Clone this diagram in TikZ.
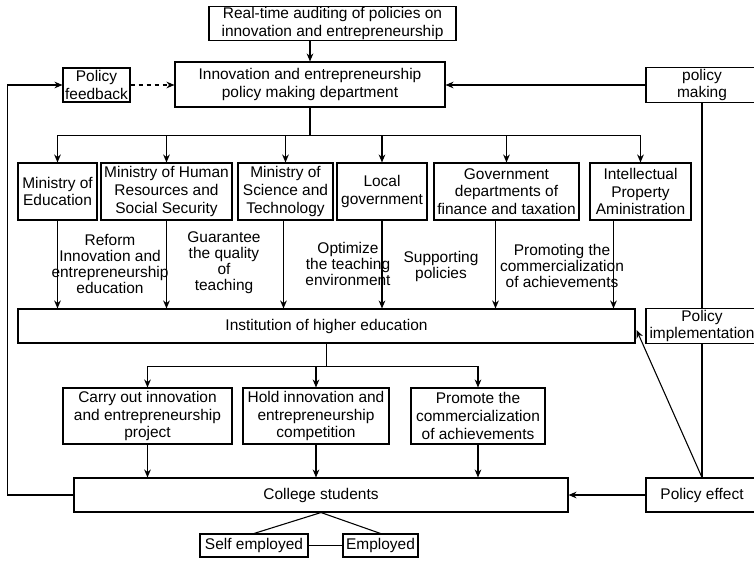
\documentclass[tikz,border=0pt]{standalone}
\usepackage{fontspec}
\setmainfont{Liberation Sans}
\usetikzlibrary{arrows.meta,positioning,calc}

\begin{document}
\begin{tikzpicture}[
    x=0.75pt, y=-0.75pt,
    box/.style={rectangle, draw, line width=0.8pt, inner sep=1pt, align=center, font=\fontsize{11.6}{13.3}\selectfont},
    sz/.style 2 args={minimum width=#1*0.75pt, minimum height=#2*0.75pt},
    lbl/.style={inner sep=0pt, align=center, font=\fontsize{11.6}{12}\selectfont},
    arrow/.style={-{Stealth[length=6pt,width=5pt]}, line width=0.8pt},
    link/.style={line width=0.8pt}
]
\useasboundingbox (0,0) rectangle (754,561);
% top part
\node[box, sz={247}{33}] (audit) at (332.5,23.5) {Real-time auditing of policies on\\innovation and entrepreneurship};
\node[box, sz={270}{45}] (dept) at (310,84.5) {Innovation and entrepreneurship\\policy making department};
\node[box, sz={67}{34}] (fb) at (96.5,85) {Policy\\feedback};
\node[box, sz={112}{34}] (making) at (702,85) {policy\\making};
% ministries
\node[box, sz={79}{57}] (edu) at (57.5,191.5) {Ministry of\\Education};
\node[box, sz={131}{57}] (hr) at (166.5,191.5) {Ministry of Human\\Resources and\\Social Security};
\node[box, sz={95}{57}] (sci) at (285.5,191.5) {Ministry of\\Science and\\Technology};
\node[box, sz={90}{57}] (local) at (382,191.5) {Local\\government};
\node[box, sz={145}{57}] (fin) at (506.5,191.5) {Government\\departments of\\finance and taxation};
\node[box, sz={101}{57}] (ipa) at (640.5,191.5) {Intellectual\\Property\\Aministration};
% labels
\node[lbl] (reform) at (110,263.5) {Reform\\Innovation and\\entrepreneurship\\education};
\node[lbl] (quality) at (224,263) {Guarantee\\the quality\\of\\teaching};
\node[lbl] (optim) at (348,264) {Optimize\\the teaching\\environment};
\node[lbl] (support) at (441,266) {Supporting\\policies};
\node[lbl] (commer) at (562,265.5) {Promoting the\\commercialization\\of achievements};
% middle part
\node[box, sz={617}{34}] (inst) at (326.5,326) {Institution of higher education};
\node[box, sz={112}{34}] (impl) at (702,326) {Policy\\implementation};
\node[box, sz={169}{56}] (carry) at (147.5,416) {Carry out innovation\\and entrepreneurship\\project};
\node[box, sz={146}{56}] (hold) at (316,416) {Hold innovation and\\entrepreneurship\\competition};
\node[box, sz={134}{56}] (promote) at (478,416) {Promote the\\commercialization\\of achievements};
% bottom part
\node[box, sz={494}{34}] (college) at (321,495) {College students};
\node[box, sz={112}{34}] (effect) at (702,495) {Policy effect};
\node[box, sz={108}{23}] (self) at (254,545.5) {Self employed};
\node[box, sz={75}{23}] (employed) at (380.5,545.5) {Employed};

\draw[arrow] (dept.north |- audit.south) -- (dept.north);
\draw[arrow, dashed] (fb.east) -- (fb.east -| dept.west);
\draw[arrow] (making.west) -- (making.west -| dept.east);
\draw[arrow] (college.west) -- ++(-66,0) |- (fb.west);
\foreach \m in {edu,hr,sci,local,fin,ipa}
    \draw[arrow] (dept.south) -- ++(0,28) -| (\m.north);
\foreach \m/\dx in {edu/0,hr/0,sci/-2,local/0,fin/-11,ipa/-27}
    \draw[arrow] ($(\m.south)+(\dx,0)$) coordinate (s) -- (s |- inst.north);
\foreach \m in {carry,hold,promote}
    \draw[arrow] (inst.south) -- ++(0,23) -| (\m.north);
\foreach \m in {carry,hold,promote}
    \draw[arrow] (\m.south) -- (\m.south |- college.north);
\draw[link] (making.south) -- (impl.north) (impl.south) -- (effect.north);
\draw[arrow] (effect.north) -- ($(inst.east)+(1,4)$);
\draw[arrow] (effect.west) -- (college.east);
\draw[link] (college.south) -- (self.north);
\draw[link] (college.south) -- (employed.north);
\draw[link] (self.east) -- (employed.west);
\end{tikzpicture}
\end{document}
